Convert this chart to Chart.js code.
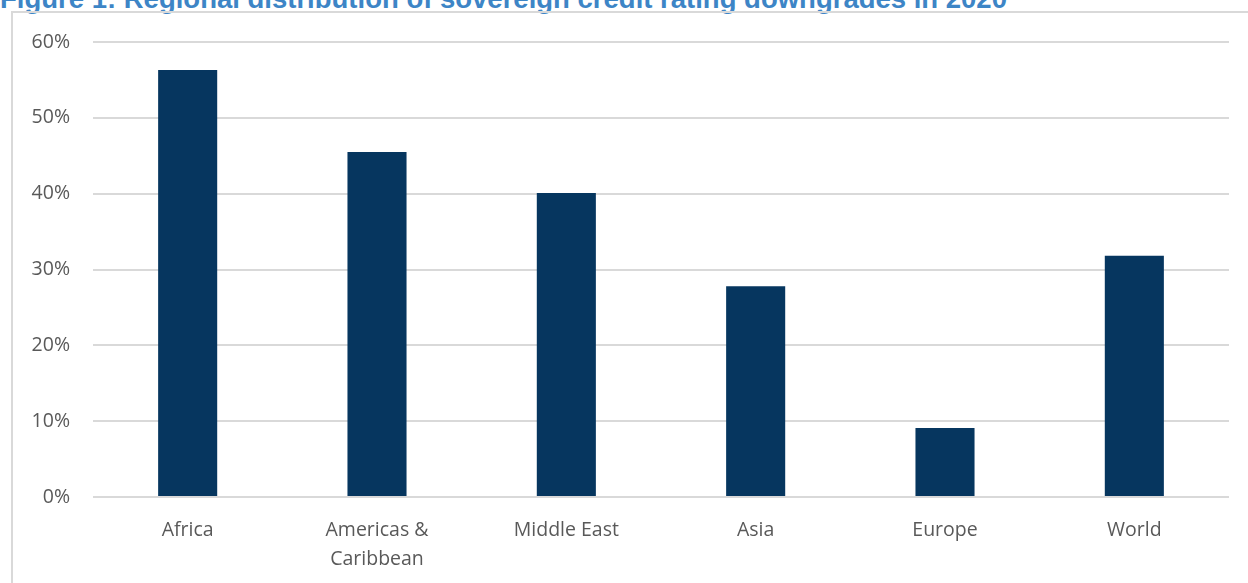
<!DOCTYPE html>
<html>
<head>
<meta charset="utf-8">
<script src="https://cdn.jsdelivr.net/npm/chart.js@4"></script>
<style>
  html, body { margin: 0; padding: 0; background: #fff; overflow: hidden; }
  #wrap { position: relative; width: 1248px; height: 583px; overflow: hidden; }
  #title { position: absolute; left: 0; top: -15px; font-family: "Liberation Sans", Arial, sans-serif; font-weight: bold; font-size: 27.5px; line-height: 28px; color: #3d85c6; white-space: nowrap; }
  #frame { position: absolute; left: 11px; top: 11px; width: 1400px; height: 800px; border: 2px solid #d9d9d9; }
  #cv { position: absolute; left: 0; top: 0; }
</style>
</head>
<body>
<div id="wrap">
  <div id="title">Figure 1: Regional distribution of sovereign credit rating downgrades in 2020</div>
  <div id="frame"></div>
  <canvas id="cv" width="1248" height="583"></canvas>
</div>
<script>
const categories = [["Africa"], ["Americas &", "Caribbean"], ["Middle East"], ["Asia"], ["Europe"], ["World"]];
const downgradeShare = [56.3, 45.5, 40.1, 27.8, 9.1, 31.8];
const yTicks = [0, 10, 20, 30, 40, 50, 60];

const fontFamily = "'Open Sans', Lato, sans-serif";

new Chart(document.getElementById('cv'), {
  type: 'bar',
  data: {
    labels: categories,
    datasets: [{
      data: downgradeShare,
      backgroundColor: '#06365f',
      borderWidth: 0,
      barPercentage: 0.312,
      categoryPercentage: 1.0
    }]
  },
  options: {
    responsive: false,
    animation: false,
    devicePixelRatio: 1,
    layout: { padding: { top: 42, right: 19, bottom: 0, left: 0 } },
    plugins: { legend: { display: false }, tooltip: { enabled: false } },
    scales: {
      x: {
        grid: { display: false, drawTicks: false },
        border: { display: false },
        ticks: { color: '#595959', font: { family: fontFamily, size: 19.5, lineHeight: 1.48 }, padding: 19.5, maxRotation: 0, autoSkip: false },
        afterFit: s => { s.height = 86; }
      },
      y: {
        min: 0, max: 60,
        afterBuildTicks: s => { s.ticks = yTicks.map(v => ({ value: v })); },
        grid: { color: '#d9d9d9', lineWidth: 2, drawTicks: false },
        border: { display: false },
        ticks: { color: '#595959', font: { family: fontFamily, size: 19.5 }, padding: 23, callback: v => v + '%' },
        afterFit: s => { s.width = 93; }
      }
    }
  }
});
</script>
</body>
</html>
